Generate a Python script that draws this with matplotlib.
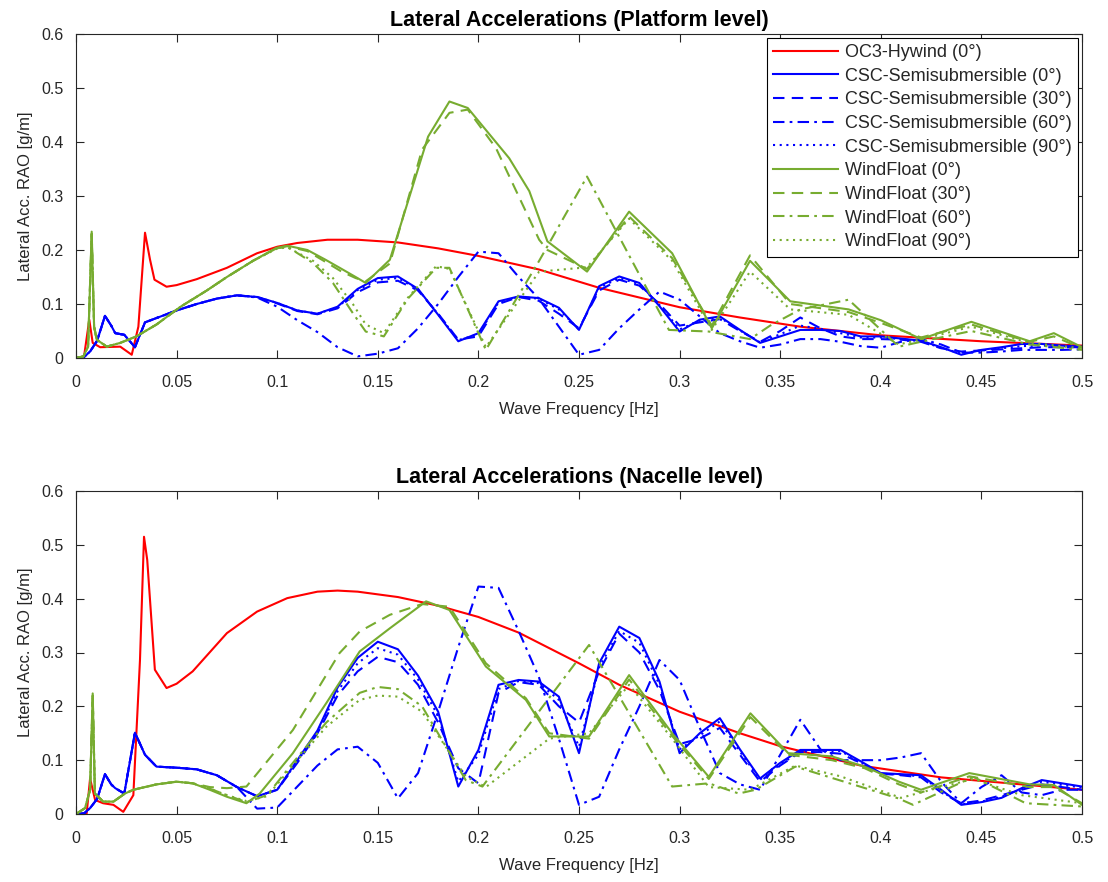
import matplotlib.pyplot as plt

plt.rcParams['font.family'] = ['Liberation Sans', 'DejaVu Sans']

# ---------------- OC3-Hywind (0 deg) ----------------
oc3_plat_f = [0, 0.004, 0.0066, 0.0083, 0.012, 0.022, 0.0277, 0.031, 0.0343, 0.0368, 0.039,
              0.045, 0.05, 0.06, 0.075, 0.09, 0.10, 0.11, 0.125, 0.14, 0.16, 0.18, 0.20, 0.23,
              0.26, 0.30, 0.33, 0.36, 0.40, 0.45, 0.50]
oc3_plat = [0, 0.003, 0.071, 0.028, 0.020, 0.021, 0.006, 0.058, 0.232, 0.182, 0.145,
            0.132, 0.135, 0.146, 0.167, 0.194, 0.206, 0.213, 0.219, 0.219, 0.214, 0.203, 0.189, 0.164,
            0.130, 0.094, 0.075, 0.058, 0.042, 0.031, 0.023]

oc3_nac_f = [0, 0.0053, 0.007, 0.0095, 0.0135, 0.0186, 0.0235, 0.0285, 0.0318, 0.0338, 0.0354,
             0.0392, 0.045, 0.05, 0.058, 0.075, 0.09, 0.105, 0.12, 0.13, 0.14, 0.16, 0.18, 0.20,
             0.22, 0.25, 0.27, 0.30, 0.33, 0.35, 0.39, 0.43, 0.47, 0.50]
oc3_nac = [0, 0.001, 0.066, 0.026, 0.020, 0.017, 0.004, 0.035, 0.286, 0.515, 0.472,
           0.268, 0.234, 0.242, 0.265, 0.336, 0.376, 0.401, 0.413, 0.415, 0.413, 0.403, 0.387, 0.366,
           0.337, 0.280, 0.240, 0.190, 0.150, 0.126, 0.090, 0.068, 0.055, 0.045]

# ---------------- CSC-Semisubmersible ----------------
freq_csc = [0, 0.004, 0.007, 0.0105, 0.0144, 0.0175, 0.0195, 0.024, 0.0293, 0.0343, 0.040,
            0.05, 0.06, 0.07, 0.08, 0.09, 0.10, 0.11, 0.12, 0.13, 0.14, 0.15, 0.16, 0.17, 0.18, 0.19,
            0.20, 0.21, 0.22, 0.23, 0.24, 0.25, 0.26, 0.27, 0.28, 0.29, 0.30, 0.31, 0.32, 0.33, 0.34,
            0.35, 0.36, 0.37, 0.38, 0.39, 0.40, 0.41, 0.42, 0.43, 0.44, 0.45, 0.46, 0.47, 0.48, 0.49, 0.50]

csc0_plat = [0, 0.002, 0.012, 0.032, 0.078, 0.060, 0.046, 0.043, 0.020, 0.066, 0.074,
             0.088, 0.100, 0.110, 0.116, 0.113, 0.102, 0.088, 0.082, 0.095, 0.128, 0.148, 0.151, 0.128, 0.080, 0.031,
             0.046, 0.105, 0.114, 0.111, 0.093, 0.052, 0.133, 0.151, 0.139, 0.096, 0.049, 0.071, 0.077, 0.052, 0.028,
             0.040, 0.052, 0.052, 0.050, 0.040, 0.040, 0.036, 0.032, 0.020, 0.006, 0.015, 0.020, 0.026, 0.026, 0.023, 0.021]
csc30_plat = [0, 0.002, 0.012, 0.032, 0.078, 0.060, 0.046, 0.043, 0.020, 0.066, 0.074,
              0.088, 0.100, 0.110, 0.116, 0.113, 0.101, 0.087, 0.081, 0.092, 0.122, 0.140, 0.143, 0.125, 0.082, 0.034,
              0.040, 0.100, 0.113, 0.106, 0.082, 0.055, 0.125, 0.145, 0.134, 0.100, 0.060, 0.066, 0.072, 0.050, 0.030,
              0.050, 0.075, 0.055, 0.040, 0.035, 0.035, 0.034, 0.030, 0.018, 0.012, 0.014, 0.016, 0.018, 0.020, 0.020, 0.020]
csc60_plat = [0, 0.002, 0.012, 0.032, 0.078, 0.060, 0.046, 0.043, 0.020, 0.066, 0.074,
              0.088, 0.100, 0.110, 0.116, 0.112, 0.095, 0.070, 0.048, 0.020, 0.003, 0.008, 0.018, 0.055, 0.100, 0.150,
              0.197, 0.194, 0.150, 0.110, 0.058, 0.006, 0.015, 0.055, 0.090, 0.123, 0.108, 0.077, 0.046, 0.031, 0.019,
              0.025, 0.035, 0.035, 0.030, 0.022, 0.019, 0.030, 0.035, 0.025, 0.010, 0.010, 0.012, 0.015, 0.015, 0.015, 0.016]
csc90_plat = [0, 0.002, 0.012, 0.032, 0.078, 0.060, 0.046, 0.043, 0.020, 0.066, 0.074,
              0.088, 0.100, 0.110, 0.116, 0.113, 0.102, 0.088, 0.082, 0.094, 0.126, 0.145, 0.148, 0.127, 0.081, 0.033,
              0.044, 0.103, 0.113, 0.110, 0.090, 0.053, 0.130, 0.148, 0.137, 0.098, 0.053, 0.069, 0.075, 0.051, 0.029,
              0.044, 0.060, 0.054, 0.046, 0.038, 0.038, 0.035, 0.031, 0.019, 0.008, 0.014, 0.018, 0.022, 0.023, 0.022, 0.020]

csc0_nac = [0, 0.001, 0.011, 0.028, 0.074, 0.055, 0.048, 0.038, 0.151, 0.110, 0.088,
            0.086, 0.083, 0.072, 0.050, 0.033, 0.045, 0.100, 0.155, 0.235, 0.290, 0.320, 0.306, 0.257, 0.190, 0.051,
            0.119, 0.240, 0.249, 0.246, 0.218, 0.113, 0.280, 0.348, 0.327, 0.246, 0.113, 0.150, 0.178, 0.120, 0.066,
            0.095, 0.119, 0.119, 0.119, 0.098, 0.076, 0.074, 0.072, 0.045, 0.017, 0.022, 0.030, 0.048, 0.063, 0.057, 0.051]
csc30_nac = [0, 0.001, 0.011, 0.028, 0.074, 0.055, 0.048, 0.038, 0.151, 0.110, 0.088,
             0.086, 0.083, 0.072, 0.050, 0.033, 0.045, 0.095, 0.150, 0.220, 0.265, 0.292, 0.282, 0.240, 0.170, 0.085,
             0.057, 0.225, 0.245, 0.240, 0.200, 0.170, 0.265, 0.335, 0.300, 0.230, 0.130, 0.140, 0.160, 0.110, 0.060,
             0.090, 0.115, 0.115, 0.112, 0.095, 0.075, 0.072, 0.068, 0.040, 0.020, 0.025, 0.035, 0.045, 0.055, 0.050, 0.045]
csc60_nac = [0, 0.001, 0.011, 0.028, 0.074, 0.055, 0.048, 0.038, 0.151, 0.110, 0.088,
             0.086, 0.083, 0.072, 0.050, 0.010, 0.012, 0.051, 0.090, 0.120, 0.125, 0.095, 0.029, 0.076, 0.190, 0.310,
             0.4225, 0.420, 0.340, 0.255, 0.140, 0.017, 0.032, 0.120, 0.200, 0.286, 0.249, 0.160, 0.076, 0.055, 0.045,
             0.110, 0.175, 0.120, 0.100, 0.100, 0.100, 0.105, 0.113, 0.060, 0.020, 0.050, 0.072, 0.040, 0.035, 0.045, 0.045]
csc90_nac = [0, 0.001, 0.011, 0.028, 0.074, 0.055, 0.048, 0.038, 0.151, 0.110, 0.088,
             0.086, 0.083, 0.072, 0.050, 0.033, 0.045, 0.098, 0.152, 0.228, 0.280, 0.308, 0.296, 0.250, 0.182, 0.060,
             0.110, 0.232, 0.247, 0.243, 0.212, 0.125, 0.272, 0.340, 0.318, 0.240, 0.120, 0.146, 0.172, 0.116, 0.064,
             0.092, 0.116, 0.117, 0.117, 0.096, 0.075, 0.073, 0.070, 0.043, 0.018, 0.023, 0.032, 0.046, 0.060, 0.054, 0.049]

# ---------------- WindFloat ----------------
wf0_plat_f = [0, 0.0037, 0.006, 0.0078, 0.009, 0.0103, 0.0153, 0.022, 0.030, 0.040, 0.052, 0.065,
              0.075, 0.088, 0.0996, 0.105, 0.115, 0.124, 0.132, 0.139, 0.144, 0.156, 0.175, 0.1856,
              0.1947, 0.2153, 0.2253, 0.2343, 0.254, 0.2749, 0.2963, 0.316, 0.335, 0.355, 0.384,
              0.40, 0.42, 0.445, 0.474, 0.486, 0.50]
wf0_plat = [0, 0.003, 0.021, 0.234, 0.058, 0.034, 0.021, 0.028, 0.040, 0.062, 0.095, 0.125,
            0.150, 0.180, 0.204, 0.208, 0.200, 0.182, 0.165, 0.150, 0.139, 0.182, 0.410, 0.475,
            0.463, 0.370, 0.309, 0.216, 0.160, 0.271, 0.194, 0.055, 0.180, 0.105, 0.090,
            0.070, 0.035, 0.067, 0.031, 0.046, 0.020]

wf30_plat_f = [0, 0.0037, 0.006, 0.0078, 0.009, 0.0103, 0.0153, 0.022, 0.030, 0.040, 0.052, 0.065,
               0.075, 0.088, 0.0996, 0.105, 0.115, 0.124, 0.132, 0.139, 0.144, 0.156, 0.172, 0.1856,
               0.1947, 0.2087, 0.2302, 0.2343, 0.254, 0.2749, 0.2963, 0.316, 0.335, 0.355, 0.384,
               0.40, 0.42, 0.445, 0.474, 0.486, 0.50]
wf30_plat = [0, 0.003, 0.021, 0.230, 0.058, 0.034, 0.021, 0.028, 0.040, 0.062, 0.095, 0.125,
             0.150, 0.180, 0.203, 0.207, 0.198, 0.178, 0.160, 0.148, 0.142, 0.175, 0.386, 0.454,
             0.460, 0.389, 0.219, 0.200, 0.165, 0.262, 0.185, 0.060, 0.190, 0.100, 0.085,
             0.065, 0.038, 0.062, 0.030, 0.040, 0.018]

wf60_plat_f = [0, 0.0037, 0.006, 0.0078, 0.009, 0.0103, 0.0153, 0.022, 0.030, 0.040, 0.052, 0.065,
               0.075, 0.088, 0.0996, 0.105, 0.1178, 0.1277, 0.1376, 0.144, 0.153, 0.165, 0.179, 0.1856,
               0.2037, 0.2302, 0.254, 0.2749, 0.2947, 0.3145, 0.335, 0.345, 0.36, 0.384, 0.409,
               0.426, 0.445, 0.474, 0.50]
wf60_plat = [0, 0.003, 0.021, 0.230, 0.058, 0.034, 0.021, 0.028, 0.040, 0.062, 0.095, 0.125,
             0.150, 0.180, 0.203, 0.206, 0.176, 0.139, 0.083, 0.049, 0.040, 0.110, 0.167, 0.167,
             0.015, 0.180, 0.336, 0.190, 0.052, 0.049, 0.035, 0.060, 0.090, 0.108, 0.021,
             0.035, 0.050, 0.025, 0.015]

wf90_plat_f = [0, 0.0037, 0.006, 0.0078, 0.009, 0.0103, 0.0153, 0.022, 0.030, 0.040, 0.052, 0.065,
               0.075, 0.088, 0.0996, 0.105, 0.1178, 0.1277, 0.1376, 0.144, 0.153, 0.165, 0.179, 0.1856,
               0.2037, 0.2302, 0.254, 0.2749, 0.2963, 0.316, 0.335, 0.355, 0.384, 0.409,
               0.426, 0.445, 0.474, 0.50]
wf90_plat = [0, 0.003, 0.021, 0.225, 0.058, 0.034, 0.021, 0.028, 0.040, 0.062, 0.095, 0.125,
             0.150, 0.180, 0.202, 0.205, 0.180, 0.148, 0.100, 0.062, 0.046, 0.112, 0.170, 0.165,
             0.020, 0.160, 0.168, 0.258, 0.180, 0.052, 0.160, 0.090, 0.080, 0.025,
             0.040, 0.058, 0.028, 0.018]

wf0_nac_f = [0, 0.0045, 0.007, 0.0083, 0.0094, 0.0135, 0.0186, 0.0243, 0.0285, 0.040, 0.050, 0.058,
             0.0665, 0.075, 0.0847, 0.0913, 0.1078, 0.1244, 0.141, 0.156, 0.174, 0.1856, 0.2037,
             0.2236, 0.2352, 0.255, 0.2749, 0.2963, 0.3145, 0.3352, 0.354, 0.3757, 0.392, 0.409,
             0.42, 0.444, 0.474, 0.486, 0.50]
wf0_nac = [0, 0.011, 0.045, 0.224, 0.038, 0.023, 0.023, 0.038, 0.045, 0.055, 0.060, 0.057,
           0.045, 0.032, 0.020, 0.038, 0.113, 0.206, 0.302, 0.345, 0.395, 0.379, 0.274,
           0.212, 0.144, 0.144, 0.258, 0.150, 0.069, 0.187, 0.113, 0.107, 0.088, 0.060,
           0.045, 0.076, 0.055, 0.054, 0.017]

wf30_nac_f = [0, 0.0045, 0.007, 0.0083, 0.0094, 0.0135, 0.0186, 0.0243, 0.0285, 0.040, 0.050, 0.058,
              0.0665, 0.075, 0.0847, 0.1078, 0.131, 0.141, 0.156, 0.172, 0.1856, 0.2037,
              0.2236, 0.2352, 0.255, 0.2749, 0.2963, 0.3145, 0.3352, 0.354, 0.3757, 0.392, 0.409,
              0.42, 0.444, 0.474, 0.486, 0.50]
wf30_nac = [0, 0.011, 0.045, 0.220, 0.038, 0.023, 0.023, 0.038, 0.045, 0.055, 0.060, 0.057,
            0.050, 0.048, 0.051, 0.156, 0.299, 0.339, 0.370, 0.390, 0.385, 0.280,
            0.215, 0.150, 0.140, 0.250, 0.145, 0.065, 0.180, 0.110, 0.100, 0.085, 0.055,
            0.040, 0.070, 0.050, 0.050, 0.020]

wf60_nac_f = [0, 0.0045, 0.007, 0.0083, 0.0094, 0.0135, 0.0186, 0.0243, 0.0285, 0.040, 0.050, 0.058,
              0.0665, 0.075, 0.0847, 0.095, 0.1078, 0.1244, 0.141, 0.150, 0.160, 0.172, 0.1937,
              0.202, 0.255, 0.2963, 0.3145, 0.3294, 0.3377, 0.3575, 0.4087, 0.416, 0.446, 0.472, 0.50]
wf60_nac = [0, 0.011, 0.045, 0.220, 0.038, 0.023, 0.023, 0.038, 0.045, 0.055, 0.060, 0.057,
            0.047, 0.035, 0.022, 0.035, 0.095, 0.170, 0.225, 0.236, 0.232, 0.200, 0.063,
            0.051, 0.314, 0.051, 0.057, 0.038, 0.045, 0.088, 0.029, 0.017, 0.069, 0.020, 0.014]

wf90_nac_f = [0, 0.0045, 0.007, 0.0083, 0.0094, 0.0135, 0.0186, 0.0243, 0.0285, 0.040, 0.050, 0.058,
              0.0665, 0.075, 0.0847, 0.095, 0.1078, 0.1244, 0.141, 0.150, 0.160, 0.172, 0.1937,
              0.2037, 0.2352, 0.255, 0.2749, 0.2963, 0.3145, 0.335, 0.3575, 0.38, 0.41, 0.43,
              0.446, 0.47, 0.50]
wf90_nac = [0, 0.011, 0.045, 0.218, 0.038, 0.023, 0.023, 0.038, 0.045, 0.055, 0.060, 0.057,
            0.047, 0.035, 0.024, 0.033, 0.090, 0.162, 0.212, 0.220, 0.218, 0.190, 0.070,
            0.050, 0.140, 0.150, 0.240, 0.140, 0.050, 0.045, 0.090, 0.070, 0.030, 0.050,
            0.065, 0.035, 0.020]

# ---------------- plotting ----------------
RED, BLUE, GREEN = '#FF0000', '#0000FF', '#77AC30'
DASH = (0, (5.5, 3.5))
DASHDOT = (0, (5.5, 2.5, 1.3, 2.5))
DOT = (0, (1.0, 2.2))

xticks = [0, 0.05, 0.1, 0.15, 0.2, 0.25, 0.3, 0.35, 0.4, 0.45, 0.5]
xtick_labels = ['0', '0.05', '0.1', '0.15', '0.2', '0.25', '0.3', '0.35', '0.4', '0.45', '0.5']
yticks = [0, 0.1, 0.2, 0.3, 0.4, 0.5, 0.6]
ytick_labels = ['0', '0.1', '0.2', '0.3', '0.4', '0.5', '0.6']

AX_COL = '#262626'
W, H = 1108, 882

fig = plt.figure(figsize=(W / 100, H / 100), dpi=100)
fig.patch.set_facecolor('white')
ax1 = fig.add_axes([76 / W, 1 - 358 / H, (1082 - 76) / W, (358 - 34) / H])
ax2 = fig.add_axes([76 / W, 1 - 814 / H, (1082 - 76) / W, (814 - 491) / H])


def draw_panel(ax, title, oc3_f, oc3, csc, wf):
    lw = 1.5
    ax.plot(oc3_f, oc3, color=RED, lw=lw, label='OC3-Hywind (0°)')
    styles = ['-', DASH, DASHDOT, DOT]
    angles = [0, 30, 60, 90]
    for vals, ls, a in zip(csc, styles, angles):
        ax.plot(freq_csc, vals, color=BLUE, lw=lw, linestyle=ls,
                label=f'CSC-Semisubmersible ({a}°)')
    for (fq, vals), ls, a in zip(wf, styles, angles):
        ax.plot(fq, vals, color=GREEN, lw=lw, linestyle=ls,
                label=f'WindFloat ({a}°)')

    ax.set_xlim(0, 0.5)
    ax.set_ylim(0, 0.6)
    ax.set_xticks(xticks)
    ax.set_xticklabels(xtick_labels)
    ax.set_yticks(yticks)
    ax.set_yticklabels(ytick_labels)
    ax.tick_params(direction='in', top=True, right=True, length=6, width=0.8,
                   colors=AX_COL, labelsize=11.5)
    ax.tick_params(axis='x', pad=12)
    ax.tick_params(axis='y', pad=9)
    for sp in ax.spines.values():
        sp.set_color(AX_COL)
        sp.set_linewidth(0.8)
    ax.set_xlabel('Wave Frequency [Hz]', fontsize=12, color=AX_COL, labelpad=9)
    ax.set_ylabel('Lateral Acc. RAO [g/m]', fontsize=12, color=AX_COL, labelpad=6)
    ax.set_title(title, fontsize=15.5, fontweight='bold', color='black', pad=6)


draw_panel(ax1, 'Lateral Accelerations (Platform level)', oc3_plat_f, oc3_plat,
           [csc0_plat, csc30_plat, csc60_plat, csc90_plat],
           [(wf0_plat_f, wf0_plat), (wf30_plat_f, wf30_plat),
            (wf60_plat_f, wf60_plat), (wf90_plat_f, wf90_plat)])
draw_panel(ax2, 'Lateral Accelerations (Nacelle level)', oc3_nac_f, oc3_nac,
           [csc0_nac, csc30_nac, csc60_nac, csc90_nac],
           [(wf0_nac_f, wf0_nac), (wf30_nac_f, wf30_nac),
            (wf60_nac_f, wf60_nac), (wf90_nac_f, wf90_nac)])

leg = ax1.legend(loc='upper right', fontsize=13, handlelength=3.6, handletextpad=0.4,
                 labelspacing=0.37, borderaxespad=0.2, borderpad=0.35,
                 fancybox=False, framealpha=1, edgecolor='black')
leg.get_frame().set_linewidth(0.8)
for t in leg.get_texts():
    t.set_color(AX_COL)

fig.savefig('out.png', dpi=100, facecolor='white')
